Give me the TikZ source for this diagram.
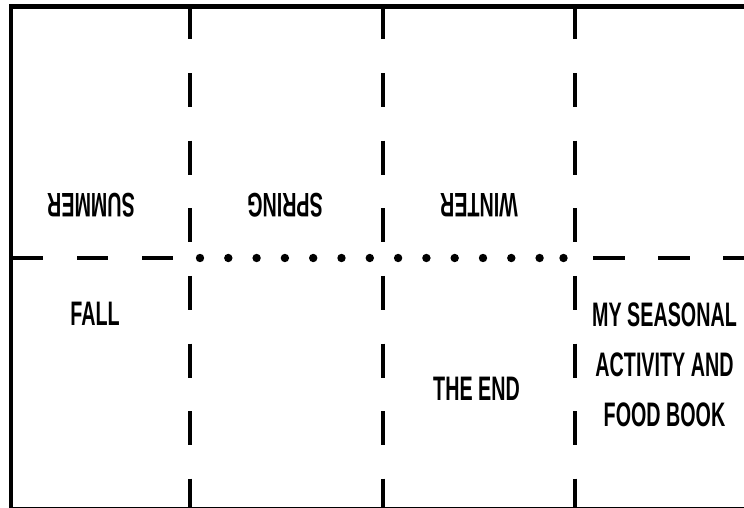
\documentclass[tikz,border=0pt]{standalone}
\usepackage{fontspec}
\newfontfamily\condfont{Liberation Sans}[FakeStretch=0.58]
\begin{document}
\begin{tikzpicture}[x=1pt,y=-1pt,
  fold/.style={line width=4pt},
  txt/.style={font=\condfont\bfseries\fontsize{34}{50}\selectfont, inner sep=0pt, align=center},
  flip/.style={txt, rotate=180}]
\useasboundingbox (0,0) rectangle (744,508);
\fill[white] (0,0) rectangle (744,508);
\draw[line width=4.5pt] (11,6.5) rectangle (772,509.5);
\foreach \x in {190,383,575} \draw[fold, dash pattern=on 34pt off 33.6pt] (\x,5.5) -- (\x,512);
\draw[fold, dash pattern=on 31pt off 34pt] (12,258) -- (175,258);
\draw[fold, dash pattern=on 32pt off 33pt] (593,258) -- (744,258);
\foreach \x in {200,228.3,...,540} \fill (\x,258) circle (4.2pt);
\fill (563.5,258) circle (4.2pt);
\node[flip] (summer) at (91,205.5) {SUMMER};
\node[flip] (spring) at (285,205) {SPRING};
\node[flip] (winter) at (479,205) {WINTER};
\node[txt] (fall) at (95,314) {FALL};
\node[txt] (end) at (476.5,388.5) {THE END};
\node[txt] (title) at (664.5,365) {MY SEASONAL\\ACTIVITY AND\\FOOD BOOK};
\end{tikzpicture}
\end{document}
